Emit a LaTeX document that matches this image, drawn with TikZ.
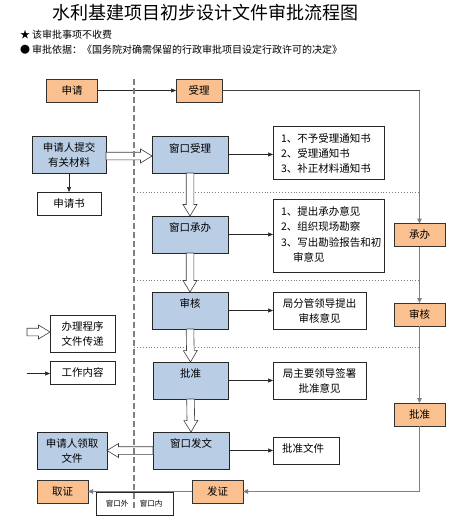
\documentclass[tikz,border=0pt]{standalone}
\usepackage{fontspec}
\setmainfont{Noto Sans CJK SC}
\usetikzlibrary{arrows.meta,calc}
\definecolor{orangefill}{HTML}{FAC090}
\definecolor{bluefill}{HTML}{B9CDE5}
\definecolor{linegray}{HTML}{7F7F7F}
\tikzset{
  every node/.style={inner sep=0pt, outer sep=0pt},
  txt/.style={font=\fontsize{10.5}{15}\selectfont, align=center},
  orangebox/.style={draw=black!80, fill=orangefill, line width=0.6pt, minimum width=51, minimum height=23, font=\fontsize{10.5}{15}\selectfont},
  bluebox/.style={draw=black!85, fill=bluefill, line width=0.6pt, minimum width=76, minimum height=37, font=\fontsize{10.5}{15}\selectfont, align=center},
  whitebox/.style={draw=black!85, fill=white, line width=0.6pt, font=\fontsize{10.5}{15}\selectfont},
  workarrow/.style={draw=black!85, line width=0.6pt, -{Triangle[length=5pt,width=4pt]}},
  flowline/.style={draw=linegray, line width=1.3pt},
  flowarrow/.style={flowline, -{Triangle[length=5pt,width=4.5pt,fill=black!80]}},
  hollow/.style={draw=black!75, fill=white, line width=0.6pt, line join=miter},
  sep/.style={draw=linegray, line width=0.9pt, dotted},
}
% hollow arrow from #1 to #2
\newcommand\hollowarrow[2]{%
  \path[hollow] let \p1=#1, \p2=#2, \n1={atan2(\y2-\y1,\x2-\x1)}, \n2={veclen(\x2-\x1,\y2-\y1)} in
   [shift={(\p1)}, rotate=\n1]
   (0pt,3.8pt) -- ({\n2*1pt-11.5pt},3.8pt) -- ({\n2*1pt-11.5pt},7pt) -- ({\n2*1pt},0pt)
   -- ({\n2*1pt-11.5pt},-7pt) -- ({\n2*1pt-11.5pt},-3.8pt) -- (0pt,-3.8pt) -- cycle;}
\begin{document}
\begin{tikzpicture}[x=1pt,y=-1pt]
\useasboundingbox[fill=white] (0,0) rectangle (467,519);

% title and notes
\node (title) at (205.5,13) {\fontsize{18}{20}\selectfont 水利基建项目初步设计文件审批流程图};
\node[anchor=west, font=\fontsize{10}{11}\selectfont] (note1) at (20,35) {★ 该审批事项不收费};
\node[anchor=west, font=\fontsize{10}{11}\selectfont] (note2) at (20,50) {● 审批依据：《国务院对确需保留的行政审批项目设定行政许可的决定》};

% dotted separators
\coordinate (s1a) at (134,192); \coordinate (s1b) at (420,192);
\coordinate (s2a) at (134,280); \coordinate (s2b) at (420,280);
\coordinate (s3a) at (134,347); \coordinate (s3b) at (420,347);
\draw[sep] (s1a) -- (s1b);
\draw[sep] (s2a) -- (s2b);
\draw[sep] (s3a) -- (s3b);

% top row
\node[orangebox] (sq) at (72,90.5) {申请};
\node[orangebox, minimum width=46] (sl) at (199,90.5) {受理};

% right column orange
\node[orangebox] (cb) at (419.5,235) {承办};
\node[orangebox] (shr) at (419.5,314.5) {审核};
\node[orangebox] (pzr) at (419.5,414.5) {批准};
\node[orangebox] (fz) at (217.5,491.5) {发证};
\node[orangebox] (qz) at (62.5,491.5) {取证};

% window box
\node[whitebox, minimum width=77, minimum height=23] (wk) at (134.5,503.5) {};
\node[font=\fontsize{7.5}{9}\selectfont] (wkw) at (117,504) {窗口外};
\node[font=\fontsize{7.5}{9}\selectfont] (wkn) at (151,504) {窗口内};

% left column
\node[bluebox, minimum width=74] (tj) at (69,154.5) {申请人提交\\有关材料};
\node[whitebox, minimum width=64, minimum height=23] (sqs) at (69,203.5) {申请书};
\node[bluebox, minimum width=70] (lq) at (72,450.5) {申请人领取\\文件};

% centre column
\node[bluebox, label={[yshift=6.5pt, font=\fontsize{10.5}{15}\selectfont]center:窗口受理}] (wsl) at (190,154.5) {};
\node[bluebox, label={[yshift=6.5pt, font=\fontsize{10.5}{15}\selectfont]center:窗口承办}] (wcb) at (190,234.5) {};
\node[bluebox, label={[yshift=7pt, font=\fontsize{10.5}{15}\selectfont]center:审核}] (sh) at (190,310.5) {};
\node[bluebox, minimum width=75, label={[yshift=7pt, font=\fontsize{10.5}{15}\selectfont]center:批准}] (pz) at (190.5,380.5) {};
\node[bluebox, label={[yshift=7.5pt, font=\fontsize{10.5}{15}\selectfont]center:窗口发文}] (wfw) at (191,450.5) {};

% right text boxes
\node[whitebox, minimum width=111, minimum height=53] (t1) at (328.5,152.5) {};
\node[txt, anchor=west, align=left] (t1t) at (281,153) {1、不予受理通知书\\2、受理通知书\\3、补正材料通知书};
\node[whitebox, minimum width=111, minimum height=73] (t2) at (328.5,235.5) {};
\node[txt, anchor=west, align=left, font=\fontsize{10.5}{15.5}\selectfont] (t2t) at (281,234.5) {1、提出承办意见\\2、组织现场勘察\\3、写出勘验报告和初\\\hspace*{12pt}审意见};
\node[whitebox, minimum width=93, minimum height=37, txt] (t3) at (319.5,310.5) {局分管领导提出\\审核意见};
\node[whitebox, minimum width=93, minimum height=37, txt] (t4) at (319.5,380.5) {局主要领导签署\\批准意见};
\node[whitebox, minimum width=66, minimum height=27] (t5) at (306,450.5) {};
\node[txt, anchor=west] (t5t) at (282,448.5) {批准文件};

% legend
\node[whitebox, minimum width=65, minimum height=37, txt] (lg1) at (82.5,333.5) {办理程序\\文件传递};
\node[whitebox, minimum width=65, minimum height=23, txt] (lg2) at (82.5,372.5) {工作内容};
\coordinate (lga) at (27,332);
\coordinate (lgb) at (27,373.5);

% hollow arrows
\hollowarrow{([yshift=-1.5pt]tj.east)}{([yshift=-1.5pt]wsl.west)}
\hollowarrow{(wsl.south)}{(wcb.north)}
\hollowarrow{(wcb.south)}{(sh.north)}
\hollowarrow{(sh.south)}{(pz.north)}
\hollowarrow{(pz.south)}{(wfw.north)}
\hollowarrow{(wfw.west)}{(lq.east)}
\hollowarrow{(lga)}{(lga -| lg1.west)}

% work arrows
\draw[workarrow] (tj.south) -- (sqs.north);
\draw[workarrow] (sq.east) -- (sl.west);
\draw[workarrow] (wsl.east) -- (wsl.east -| t1.west);
\draw[workarrow] (wcb.east) -- (wcb.east -| t2.west);
\draw[workarrow] (sh.east) -- (sh.east -| t3.west);
\draw[workarrow] (pz.east) -- (pz.east -| t4.west);
\draw[workarrow] (wfw.east) -- (wfw.east -| t5.west);
\draw[workarrow] (lgb) -- (lgb -| lg2.west);

% process flow on the right
\draw[flowline, line width=0.8pt, draw=black!75] (sl.east) -- (sl.east -| cb.north);
\draw[flowarrow] (sl.east -| cb.north) -- (cb.north);
\draw[flowarrow] (cb.south) -- (shr.north);
\draw[flowarrow] (shr.south) -- (pzr.north);
\draw[flowarrow] (pzr.south) |- (fz.east);
\draw[flowarrow] (fz.west) -- (qz.east);

% window boundary
\coordinate (da) at (134,79);
\coordinate (db) at (134,510);
\draw[draw=linegray, line width=1.3pt, dash pattern=on 6pt off 3pt] (da) -- (db);
\end{tikzpicture}
\end{document}
